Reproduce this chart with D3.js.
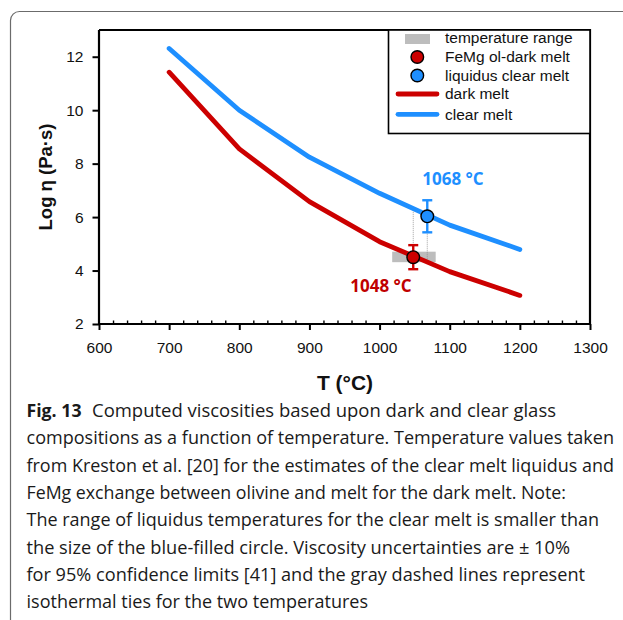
<!DOCTYPE html>
<html><head><meta charset="utf-8">
<script src="https://cdn.jsdelivr.net/npm/d3@7"></script>
<style>
html,body{margin:0;padding:0;background:#fff;}
svg{display:block;}
</style></head>
<body>
<svg id="chart" width="623" height="620"></svg>
<script>
// ---------- data ----------
const temps = [700, 800, 900, 1000, 1100, 1200];
const darkMelt = [11.42, 8.55, 6.58, 5.08, 3.96, 3.07];
const clearMelt = [12.31, 10.0, 8.24, 6.89, 5.70, 4.79];
const darkPoint = {T: 1048, v: 4.50, err: 0.45};
const clearPoint = {T: 1068, v: 6.03, err: 0.60};
const tempRange = [1018, 1080];
const xTicks = [600, 700, 800, 900, 1000, 1100, 1200, 1300];
const yTicks = [2, 4, 6, 8, 10, 12];
const legendLabels = ["temperature range", "FeMg ol-dark melt", "liquidus clear melt", "dark melt", "clear melt"];
const captionBold = "Fig. 13";
const captionLines = [
  "Computed viscosities based upon dark and clear glass",
  "compositions as a function of temperature. Temperature values taken",
  "from Kreston et al. [20] for the estimates of the clear melt liquidus and",
  "FeMg exchange between olivine and melt for the dark melt. Note:",
  "The range of liquidus temperatures for the clear melt is smaller than",
  "the size of the blue-filled circle. Viscosity uncertainties are \u00B1 10%",
  "for 95% confidence limits [41] and the gray dashed lines represent",
  "isothermal ties for the two temperatures"
];

// ---------- layout ----------
const captionEnds = [556, 614, 614, 566, 599, 570, 585, 368];
const RED = "#CC0000", BLUE = "#1E8FFF";

const svg = d3.select("#chart");

// caption frame
svg.append("rect").attr("x", 10.5).attr("y", 11.5).attr("width", 700).attr("height", 700)
  .attr("rx", 9).attr("fill", "none").attr("stroke", "#6b6b6b").attr("stroke-width", 1.2);

const x = d3.scaleLinear().domain([600, 1300]).range([99, 590]);
const y = d3.scaleLinear().domain([2, 13]).range([324, 30]);

// temperature range bar
svg.append("rect")
  .attr("x", x(tempRange[0])).attr("width", x(tempRange[1]) - x(tempRange[0]))
  .attr("y", y(darkPoint.v) - 5.5).attr("height", 10.5)
  .attr("fill", "#BDBDBD");

// isothermal ties
const lin = (arr, T) => {
  const i = d3.bisectRight(temps, T) - 1;
  const t = (T - temps[i]) / (temps[i + 1] - temps[i]);
  return arr[i] + t * (arr[i + 1] - arr[i]);
};
svg.append("line").attr("x1", x(darkPoint.T)).attr("x2", x(darkPoint.T))
  .attr("y1", y(darkPoint.v)).attr("y2", y(lin(clearMelt, darkPoint.T)))
  .attr("stroke", "#8a8a8a").attr("stroke-width", 0.8).attr("stroke-dasharray", "1,1");
svg.append("line").attr("x1", x(clearPoint.T)).attr("x2", x(clearPoint.T))
  .attr("y1", y(clearPoint.v)).attr("y2", y(lin(darkMelt, clearPoint.T)))
  .attr("stroke", "#8a8a8a").attr("stroke-width", 0.8).attr("stroke-dasharray", "1,1");

// curves
const line = d3.line().x(d => x(d[0])).y(d => y(d[1]));
svg.append("path").datum(temps.map((t, i) => [t, darkMelt[i]]))
  .attr("d", line).attr("fill", "none").attr("stroke", RED)
  .attr("stroke-width", 4.8).attr("stroke-linecap", "round").attr("stroke-linejoin", "round");
svg.append("path").datum(temps.map((t, i) => [t, clearMelt[i]]))
  .attr("d", line).attr("fill", "none").attr("stroke", BLUE)
  .attr("stroke-width", 4.8).attr("stroke-linecap", "round").attr("stroke-linejoin", "round");

// error bars + points
function errPoint(p, color) {
  const g = svg.append("g").attr("stroke", color).attr("stroke-width", 2.4);
  const cx = x(p.T);
  g.append("line").attr("x1", cx).attr("x2", cx).attr("y1", y(p.v + p.err)).attr("y2", y(p.v - p.err));
  g.append("line").attr("x1", cx - 5).attr("x2", cx + 5).attr("y1", y(p.v + p.err)).attr("y2", y(p.v + p.err));
  g.append("line").attr("x1", cx - 5).attr("x2", cx + 5).attr("y1", y(p.v - p.err)).attr("y2", y(p.v - p.err));
  svg.append("circle").attr("cx", cx).attr("cy", y(p.v)).attr("r", 6.3)
    .attr("fill", color).attr("stroke", "#000").attr("stroke-width", 1.4);
}
errPoint(darkPoint, RED);
errPoint(clearPoint, BLUE);

// point labels
svg.append("text").attr("x", 453).attr("y", 185).attr("text-anchor", "middle")
  .attr("font-family", "'Open Sans', sans-serif").attr("font-weight", "bold").attr("font-size", 17)
  .attr("fill", BLUE).text(clearPoint.T + " \u00B0C");
svg.append("text").attr("x", 381).attr("y", 292).attr("text-anchor", "middle")
  .attr("font-family", "'Open Sans', sans-serif").attr("font-weight", "bold").attr("font-size", 17)
  .attr("fill", "#C00000").text(darkPoint.T + " \u00B0C");

// axes
const fontAx = "'Liberation Sans', Arial, sans-serif";
const xAxis = svg.append("g").attr("transform", "translate(0,324)")
  .call(d3.axisBottom(x).tickValues(xTicks).tickSize(6).tickPadding(12).tickFormat(d3.format("d")));
const xMinor = svg.append("g").attr("transform", "translate(0,324)")
  .call(d3.axisBottom(x).tickValues(d3.range(600, 1301, 20).filter(v => v % 100 !== 0)).tickSize(-3.5).tickFormat(""));
xMinor.select(".domain").remove();
const yAxis = svg.append("g").attr("transform", "translate(99,0)")
  .call(d3.axisLeft(y).tickValues(yTicks).tickSize(6.5).tickPadding(9).tickFormat(d3.format("d")));
[xAxis, yAxis].forEach(a => {
  a.select(".domain").attr("stroke-width", 2.2).attr("stroke", "#000");
  a.selectAll(".tick line").attr("stroke-width", 2).attr("stroke", "#000");
  a.selectAll("text").attr("font-family", fontAx).attr("font-size", 15.5).attr("fill", "#111");
});
xMinor.selectAll(".tick line").attr("stroke-width", 1.4).attr("stroke", "#000");
yAxis.select(".domain").attr("d", "M0,324V30");
xAxis.select(".domain").attr("d", "M99,0H590");
// frame top/right
svg.append("path").attr("d", `M${x(600)},${y(13)}H${x(1300)}V${y(2)}`)
  .attr("fill", "none").attr("stroke", "#000").attr("stroke-width", 2.2);

// axis titles
svg.append("text").attr("transform", "translate(52,177) rotate(-90)")
  .attr("text-anchor", "middle").attr("font-family", fontAx).attr("font-weight", "bold")
  .attr("font-size", 18.5).attr("fill", "#111").text("Log \u03B7 (Pa\u00B7s)");
svg.append("text").attr("x", 345).attr("y", 390).attr("text-anchor", "middle")
  .attr("font-family", fontAx).attr("font-weight", "bold").attr("font-size", 21)
  .attr("fill", "#111").text("T (\u00B0C)");

// legend
const lg = svg.append("g");
lg.append("rect").attr("x", 388.5).attr("y", 30).attr("width", 590 - 388.5).attr("height", 103.5)
  .attr("fill", "#fff").attr("stroke", "#000").attr("stroke-width", 1.6);
const rowY = [37.7, 57, 75.5, 94, 114.3];
lg.append("rect").attr("x", 405).attr("y", 34).attr("width", 25).attr("height", 10).attr("fill", "#BDBDBD");
lg.append("circle").attr("cx", 417.3).attr("cy", rowY[1]).attr("r", 6.3).attr("fill", RED).attr("stroke", "#000").attr("stroke-width", 1.4);
lg.append("circle").attr("cx", 417.3).attr("cy", rowY[2]).attr("r", 6.3).attr("fill", BLUE).attr("stroke", "#000").attr("stroke-width", 1.4);
lg.append("line").attr("x1", 398).attr("x2", 437).attr("y1", rowY[3]).attr("y2", rowY[3]).attr("stroke", RED).attr("stroke-width", 4.8).attr("stroke-linecap", "round");
lg.append("line").attr("x1", 398).attr("x2", 437).attr("y1", rowY[4]).attr("y2", rowY[4]).attr("stroke", BLUE).attr("stroke-width", 4.8).attr("stroke-linecap", "round");
lg.selectAll("text.lab").data(legendLabels).join("text").attr("class", "lab")
  .attr("x", 445).attr("y", (d, i) => rowY[i] + 5.4)
  .attr("font-family", fontAx).attr("font-size", 15.5).attr("fill", "#111").text(d => d);

// caption
const cf = "'Open Sans', 'Noto Sans', sans-serif";
const lineH = 27.3, base0 = 417;
svg.append("text").attr("x", 26.5).attr("y", base0).attr("font-family", cf).attr("font-weight", "bold")
  .attr("font-size", 18).attr("fill", "#1a1a1a")
  .attr("textLength", 55).attr("lengthAdjust", "spacingAndGlyphs").text(captionBold);
captionLines.forEach((t, i) => {
  const x0 = i === 0 ? 92 : 26.5;
  svg.append("text").attr("x", x0).attr("y", base0 + i * lineH)
    .attr("font-family", cf).attr("font-size", 17.5).attr("fill", "#1a1a1a")
    .attr("textLength", captionEnds[i] - x0).attr("lengthAdjust", "spacingAndGlyphs").text(t);
});
</script>
</body></html>
